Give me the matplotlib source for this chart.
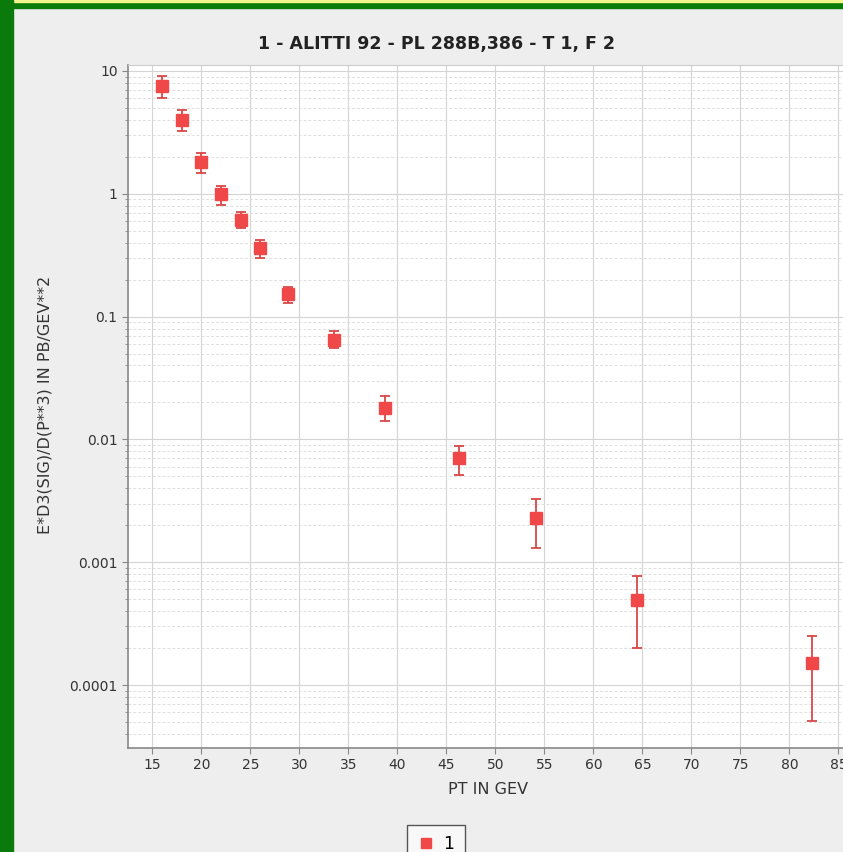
import matplotlib.pyplot as plt
from matplotlib.lines import Line2D
from matplotlib.patches import Rectangle
from matplotlib.ticker import FixedLocator, LogLocator, NullFormatter

# PT bins and invariant cross section with error band
pt = [16.0, 18.0, 20.0, 22.0, 24.0, 26.0, 28.8, 33.5, 38.7, 46.3, 54.1, 64.4, 82.3]
sig = [7.55, 3.98, 1.81, 1.0, 0.61, 0.36, 0.153, 0.0645, 0.018, 0.0070, 0.0023, 0.00049, 0.00015]
sig_hi = [9.1, 4.8, 2.16, 1.16, 0.71, 0.42, 0.175, 0.076, 0.0224, 0.0088, 0.0033, 0.00077, 0.00025]
sig_lo = [6.0, 3.26, 1.47, 0.81, 0.53, 0.30, 0.13, 0.056, 0.0141, 0.0051, 0.0013, 0.00020, 0.000051]
xticks = [15, 20, 25, 30, 35, 40, 45, 50, 55, 60, 65, 70, 75, 80, 85]
yticks = [0.0001, 0.001, 0.01, 0.1, 1, 10]
ytick_labels = ["0.0001", "0.001", "0.01", "0.1", "1", "10"]

W, H = 843, 852
fig = plt.figure(figsize=(W / 100, H / 100), dpi=100, facecolor="#eeeeee")

# frame around the panel
fig.patches.append(Rectangle((0, 1 - 8 / H), 1, 8 / H, transform=fig.transFigure,
                             color="#0a7a0a", zorder=0))
fig.patches.append(Rectangle((0, 1 - 2 / H), 1, 2 / H, transform=fig.transFigure,
                             color="#f4f48c", zorder=0))
fig.patches.append(Rectangle((0, 0), 13 / W, 1, transform=fig.transFigure,
                             color="#0a7a0a", zorder=0))

left, right, top, bottom = 128, 858, 65, 748
ax = fig.add_axes([left / W, 1 - bottom / H, (right - left) / W, (bottom - top) / H])
ax.set_facecolor("white")

red = "#f04848"
lo_err = [s - l for s, l in zip(sig, sig_lo)]
hi_err = [h - s for s, h in zip(sig, sig_hi)]
ax.errorbar(pt, sig, yerr=[lo_err, hi_err], fmt="s", color=red, ecolor="#d84848",
            markersize=8.5, elinewidth=1.3, capsize=3.5, capthick=1.3, zorder=3)

ax.set_yscale("log")
ax.set_xlim(12.5, 87)
ax.set_ylim(3.07e-5, 11.19)
ax.xaxis.set_major_locator(FixedLocator(xticks))
ax.yaxis.set_major_locator(FixedLocator(yticks))
ax.set_yticklabels(ytick_labels)
ax.yaxis.set_minor_locator(LogLocator(base=10, subs=range(2, 10), numticks=20))
ax.yaxis.set_minor_formatter(NullFormatter())

ax.grid(True, which="major", color="#d4d4d4", linewidth=0.8)
ax.grid(True, which="minor", axis="y", color="#dedede", linewidth=0.7, linestyle=(0, (3, 2)))
ax.set_axisbelow(True)

for side in ["top", "right"]:
    ax.spines[side].set_color("#cccccc")
for side in ["left", "bottom"]:
    ax.spines[side].set_color("#888888")
    ax.spines[side].set_linewidth(1.2)
ax.tick_params(which="both", direction="out", colors="#888888", labelcolor="#333333",
               labelsize=10)
ax.tick_params(which="major", length=4)
ax.tick_params(which="minor", length=2.5)

fig.text(437 / W, 1 - 44 / H, "1 - ALITTI 92 - PL 288B,386 - T 1, F 2",
         ha="center", va="center", fontsize=12.5, fontweight="bold", color="#222222")
fig.text(488 / W, 1 - 789 / H, "PT IN GEV", ha="center", va="center",
         fontsize=11.5, color="#333333")
fig.text(45 / W, 1 - 405 / H, "E*D3(SIG)/D(P**3) IN PB/GEV**2", ha="center", va="center",
         rotation=90, fontsize=11.5, color="#333333")

handle = Line2D([], [], marker="s", linestyle="none", color=red, markersize=7)
fig.legend([handle], ["1"], loc="upper center", bbox_to_anchor=(436 / W, 1 - 816 / H),
           fontsize=12.5, frameon=True, fancybox=False, edgecolor="#555555",
           facecolor="#f8f8f8", framealpha=1, handlelength=1.0, handletextpad=0.5,
           borderpad=0.6)

fig.savefig("out.png", dpi=100, facecolor=fig.get_facecolor())
